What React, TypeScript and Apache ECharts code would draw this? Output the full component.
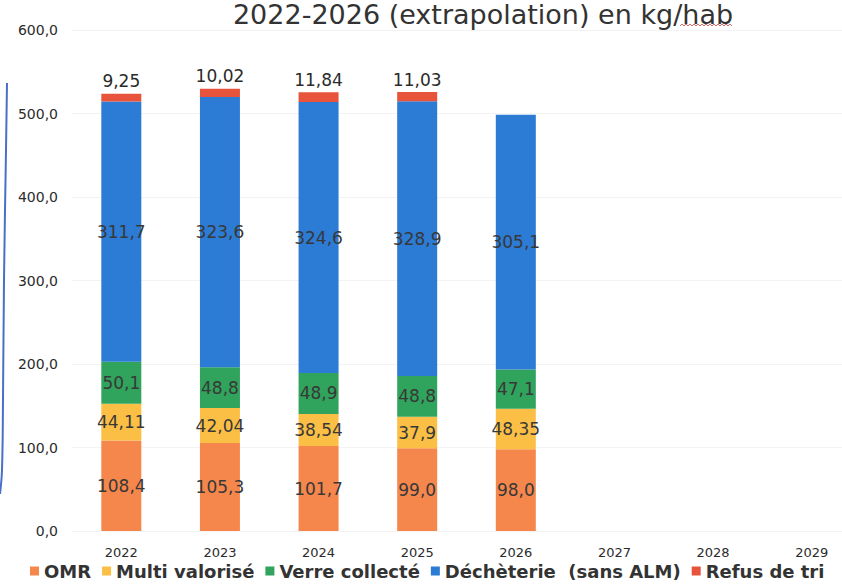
import React, { useEffect, useRef } from "react";
import * as echarts from "echarts";

const categories = ["2022", "2023", "2024", "2025", "2026", "2027", "2028", "2029"];
const omr = [108.4, 105.3, 101.7, 99.0, 98.0, null, null, null];
const multiValorise = [44.11, 42.04, 38.54, 37.9, 48.35, null, null, null];
const verreCollecte = [50.1, 48.8, 48.9, 48.8, 47.1, null, null, null];
const decheterie = [311.7, 323.6, 324.6, 328.9, 305.1, null, null, null];
const refusDeTri = [9.25, 10.02, 11.84, 11.03, null, null, null, null];
const yTicks = [0, 100, 200, 300, 400, 500, 600];

const FONT = "DejaVu Sans";
const fmt1 = (v: number) => v.toFixed(1).replace(".", ",");
const fmtRaw = (v: number) => String(v).replace(".", ",");

export default function App() {
  const ref = useRef<HTMLDivElement>(null);
  useEffect(() => {
    if (!ref.current) return;
    const chart = echarts.init(ref.current, null, { renderer: "svg" });
    const mk = (name: string, data: any[], color: string, f: (v: number) => string, top = false) => ({
      name,
      type: "bar",
      stack: "total",
      barWidth: 40,
      data,
      itemStyle: { color },
      label: {
        show: true,
        position: top ? "top" : "inside",
        distance: 4,
        fontFamily: FONT,
        fontSize: 17,
        color: top ? "#2a2a2a" : "#383838",
        formatter: (p: any) => (p.value == null ? "" : f(p.value)),
      },
    });
    chart.setOption({
      animation: false,
      backgroundColor: "#ffffff",
      grid: { left: 72, right: 0, top: 30, bottom: 53, containLabel: false },
      legend: {
        top: 557,
        left: 25,
        itemWidth: 9,
        itemHeight: 9,
        itemGap: 11,
        icon: "rect",
        textStyle: { fontFamily: FONT, fontSize: 18, fontWeight: "bold", color: "#333333" },
        data: ["OMR", "Multi valorisé", "Verre collecté", "Déchèterie  (sans ALM)", "Refus de tri"],
      },
      xAxis: {
        type: "category",
        data: categories,
        axisLine: { show: false },
        axisTick: { show: false },
        axisLabel: { fontFamily: FONT, fontSize: 13, color: "#2b2b2b", margin: 15 },
      },
      yAxis: {
        type: "value",
        min: yTicks[0],
        max: yTicks[yTicks.length - 1],
        interval: 100,
        axisLine: { show: false },
        axisTick: { show: false },
        splitLine: { show: true, lineStyle: { color: "#f3f3f3", width: 1 } },
        axisLabel: { fontFamily: FONT, fontSize: 14, color: "#2b2b2b", margin: 14, formatter: (v: number) => fmt1(v) },
      },
      graphic: [
        {
          type: "text",
          style: {
            x: 483,
            y: 14,
            text: "2022-2026 (extrapolation) en kg/hab",
            textAlign: "center",
            textVerticalAlign: "middle",
            fontFamily: FONT,
            fontSize: 27,
            fill: "#333333",
          },
        },
        {
          type: "polyline",
          shape: {
            points: [
              [680, 26], [682, 24], [684, 26], [686, 24], [688, 26], [690, 24], [692, 26], [694, 24],
              [696, 26], [698, 24], [700, 26], [702, 24], [704, 26], [706, 24], [708, 26], [710, 24],
              [712, 26], [714, 24], [716, 26], [718, 24], [720, 26], [722, 24], [724, 26], [726, 24],
              [728, 26], [730, 24], [732, 26],
            ],
          },
          style: { stroke: "#e06a6a", lineWidth: 1, fill: "none" },
        },
        {
          type: "polyline",
          shape: {
            smooth: 0.4,
            points: [[7, 83], [6, 150], [4, 280], [3, 400], [2, 470], [0, 494]],
          },
          style: { stroke: "#4a6fc8", lineWidth: 2, fill: "none" },
        },
      ],
      series: [
        mk("OMR", omr, "#f5874c", fmt1),
        mk("Multi valorisé", multiValorise, "#fbbf45", fmtRaw),
        mk("Verre collecté", verreCollecte, "#30a35c", fmt1),
        mk("Déchèterie  (sans ALM)", decheterie, "#2c7bd4", fmt1),
        mk("Refus de tri", refusDeTri, "#e8533c", fmtRaw, true),
      ],
    });
    return () => chart.dispose();
  }, []);
  return (
    <div style={{ position: "absolute", left: 0, top: 0, width: 842, height: 584, overflow: "hidden" }}>
      <div ref={ref} style={{ position: "absolute", left: 0, top: 0, width: 861, height: 584 }} />
    </div>
  );
}
